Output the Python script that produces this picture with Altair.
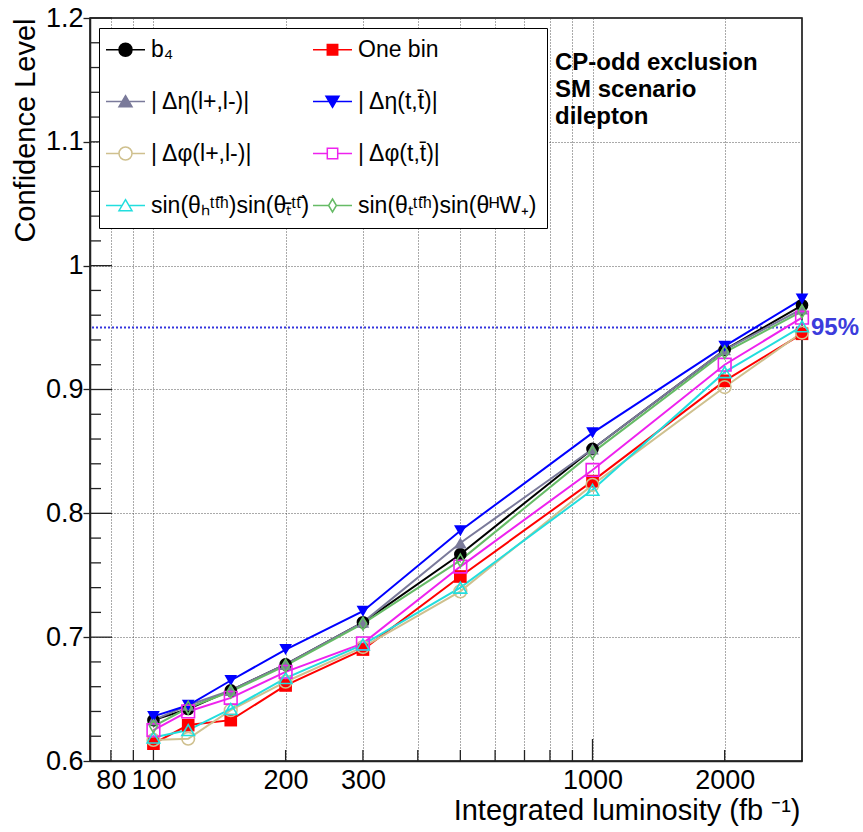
import altair as alt
import pandas as pd

# ---------------- data ----------------
lumi = [100, 120, 150, 200, 300, 500, 1000, 2000, 3000]

series_names = [
    "b₄",
    "One bin",
    "| Δη(l+,l-)|",
    "| Δη(t,t̄)|",
    "| Δφ(l+,l-)|",
    "| Δφ(t,t̄)|",
    "sin(θₕᵗᵗ̄ʰ)sin(θₜ̄ᵗᵗ̄)",
    "sin(θₜᵗᵗ̄ʰ)sin(θᴴW₊)",
]

cl_b4 = [0.633, 0.642, 0.657, 0.678, 0.712, 0.767, 0.852, 0.932, 0.968]
cl_onebin = [0.614, 0.629, 0.633, 0.661, 0.690, 0.749, 0.826, 0.907, 0.945]
cl_deta_ll = [0.633, 0.645, 0.657, 0.678, 0.712, 0.776, 0.852, 0.932, 0.965]
cl_deta_tt = [0.636, 0.645, 0.665, 0.690, 0.721, 0.786, 0.865, 0.935, 0.973]
cl_dphi_ll = [0.617, 0.618, 0.641, 0.664, 0.692, 0.737, 0.823, 0.902, 0.946]
cl_dphi_tt = [0.625, 0.640, 0.651, 0.672, 0.695, 0.757, 0.835, 0.920, 0.958]
cl_sin_h = [0.619, 0.625, 0.642, 0.667, 0.694, 0.740, 0.819, 0.914, 0.951]
cl_sin_w = [0.628, 0.643, 0.656, 0.677, 0.711, 0.762, 0.849, 0.930, 0.963]

all_values = [cl_b4, cl_onebin, cl_deta_ll, cl_deta_tt,
              cl_dphi_ll, cl_dphi_tt, cl_sin_h, cl_sin_w]

colors = ["#000000", "#ff0000", "#7a7a9a", "#0000ff",
          "#cfc08e", "#ee22ee", "#22dede", "#66bb66"]
shapes = ["circle", "square", "triangle-up", "triangle-down",
          "circle", "square", "triangle-up", "M0,-1L0.6,0L0,1L-0.6,0Z"]
filled = [True, True, True, True, False, False, False, False]

legend_paths = [
    "M-3,0H-1M1,0H3M1,0A1,1,0,1,1,-1,0A1,1,0,1,1,1,0Z",
    "M-3,0H-0.8M0.8,0H3M-0.8,-0.8H0.8V0.8H-0.8Z",
    "M-3,0H-0.55M0.55,0H3M0,-0.9L1,0.8L-1,0.8Z",
    "M-3,0H-0.55M0.55,0H3M0,0.9L1,-0.8L-1,-0.8Z",
    "M-3,0H-1M1,0H3M1,0A1,1,0,1,1,-1,0A1,1,0,1,1,1,0Z",
    "M-3,0H-0.8M0.8,0H3M-0.8,-0.8H0.8V0.8H-0.8Z",
    "M-3,0H-0.55M0.55,0H3M0,-0.9L1,0.8L-1,0.8Z",
    "M-3,0H-0.6M0.6,0H3M0,-1L0.6,0L0,1L-0.6,0Z",
]

x_grid_values = [80, 90, 100, 200, 300, 400, 500, 600, 700, 800, 900,
                 1000, 2000, 3000]
x_label_values = [80, 100, 200, 300, 1000, 2000]
x_major_ticks = [100, 1000]
x_minor_ticks = [80, 90, 200, 300, 400, 500, 600, 700, 800, 900, 2000, 3000]
y_major = [0.6, 0.7, 0.8, 0.9, 1.0, 1.1, 1.2]
y_minor = [0.62, 0.64, 0.66, 0.68, 0.72, 0.74, 0.76, 0.78, 0.82, 0.84,
           0.86, 0.88, 0.92, 0.94, 0.96, 0.98, 1.02, 1.04, 1.06, 1.08,
           1.12, 1.14, 1.16, 1.18]
cl95 = 0.95
anno_lines = ["CP-odd exclusion", "SM scenario", "dilepton"]

FONT = "Liberation Sans"
W, H = 712, 743

rows = []
for name, vals, col in zip(series_names, all_values, colors):
    for xv, yv in zip(lumi, vals):
        rows.append({"series": name, "x": xv, "y": yv, "color": col})
df = pd.DataFrame(rows)

df_leg = pd.DataFrame({"series": series_names, "x": [10] * 8, "y": [0.9] * 8})

xscale = alt.Scale(type="log", domain=[71.7, 3000], nice=False)
yscale = alt.Scale(domain=[0.6, 1.2], nice=False, zero=False)

label_test = ("indexof([" + ",".join(str(v) for v in x_label_values)
              + "], datum.value) >= 0 ? datum.label : ''")

x_axis = alt.Axis(values=x_grid_values, format="d", labelExpr=label_test,
                  ticks=False, tickSize=0, labelPadding=6, labelFontSize=27,
                  grid=True, labelFlush=False, labelOverlap=False,
                  titleFontSize=29, titleAnchor="end", titleAlign="right",
                  titleX=710, titleY=58, titleBaseline="alphabetic",
                  titleFontWeight="normal")
y_axis = alt.Axis(values=y_major, format="~g", ticks=True, tickSize=7,
                  labelPadding=0, labelFontSize=27, grid=True,
                  labelFlush=False, labelOverlap=False,
                  titleFontSize=29, titleAngle=270, titleAlign="right",
                  titleBaseline="top", titleX=-79, titleY=0,
                  titleFontWeight="normal")

X = alt.X("x:Q", scale=xscale, axis=x_axis, title="Integrated luminosity (fb ⁻¹)")
Y = alt.Y("y:Q", scale=yscale, axis=y_axis, title="Confidence Level")

layers = []

# inward ticks
layers.append(alt.Chart(pd.DataFrame({"x": x_major_ticks})).mark_rule(
    color="#222", strokeWidth=1.3).encode(x=X, y=alt.value(H), y2=alt.value(H - 22)))
layers.append(alt.Chart(pd.DataFrame({"x": x_minor_ticks})).mark_rule(
    color="#222", strokeWidth=1.3).encode(x=X, y=alt.value(H), y2=alt.value(H - 11)))
layers.append(alt.Chart(pd.DataFrame({"y": y_major})).mark_rule(
    color="#222", strokeWidth=1.3).encode(y=Y, x=alt.value(0), x2=alt.value(22)))
layers.append(alt.Chart(pd.DataFrame({"y": y_minor})).mark_rule(
    color="#222", strokeWidth=1.3).encode(y=Y, x=alt.value(0), x2=alt.value(11)))

# 95% line
layers.append(alt.Chart(pd.DataFrame({"y": [cl95]})).mark_rule(
    color="#3535dd", strokeWidth=2, strokeDash=[2, 2]).encode(y=Y))

# curves
layers.append(alt.Chart(df).mark_line(strokeWidth=2).encode(
    x=X, y=Y,
    stroke=alt.Stroke("color:N", scale=None, legend=None),
    detail="series:N",
))

# markers
for name, col, shp, fl in zip(series_names, colors, shapes, filled):
    layers.append(
        alt.Chart(df[df["series"] == name]).mark_point(
            shape=shp, filled=fl, color=col, size=160, strokeWidth=1.6,
            opacity=1).encode(x=X, y=Y)
    )

# annotation text
layers.append(alt.Chart(pd.DataFrame({"k": [0]})).mark_text(
    align="left", baseline="alphabetic", font=FONT, fontSize=24,
    fontWeight="bold", lineHeight=27, color="black").encode(
    x=alt.value(465), y=alt.value(52), text=alt.value(anno_lines)))

layers.append(alt.Chart(pd.DataFrame({"y": [cl95], "t": ["95%"]})).mark_text(
    align="left", baseline="middle", font=FONT, fontSize=24,
    fontWeight="bold", color="#3c3cdc").encode(
    y=Y, x=alt.value(W + 9), text="t:N"))

# legend (symbols drawn off-plot and clipped; only the legend shows)
leg = alt.Legend(orient="none", legendX=9, legendY=10, columns=2,
                 direction="horizontal", title=None,
                 labelFont=FONT, labelFontSize=23, labelLimit=400,
                 labelColor="black", symbolSize=169, symbolStrokeWidth=1.5,
                 symbolOpacity=1, symbolOffset=5, labelOffset=14,
                 rowPadding=28, columnPadding=0, padding=10,
                 strokeColor="black", fillColor="white")

layers.append(alt.Chart(df_leg).mark_point(clip=True, size=169, filled=False,
                                            opacity=1).encode(
    x=X, y=Y,
    color=alt.Color("series:N", scale=alt.Scale(domain=series_names, range=colors), legend=leg),
    fill=alt.Fill("series:N", scale=alt.Scale(
        domain=series_names,
        range=[c if f else "white" for c, f in zip(colors, filled)]), legend=leg),
    shape=alt.Shape("series:N", scale=alt.Scale(domain=series_names, range=legend_paths), legend=leg),
))

chart = alt.layer(*layers).properties(
    width=W, height=H, autosize="none",
    padding={"left": 90, "top": 18, "right": 61, "bottom": 71},
    background="white",
).configure_view(
    stroke="black", strokeWidth=1.5,
).configure_axis(
    labelFont=FONT, titleFont=FONT, labelColor="black", titleColor="black",
    domainColor="#222", domainWidth=1.5, tickColor="#222", tickWidth=1.3,
    gridColor="#444", gridDash=[1, 2], gridWidth=1, gridOpacity=0.9,
)

chart.save("out.html", embed_options={"renderer": "svg", "actions": False})
